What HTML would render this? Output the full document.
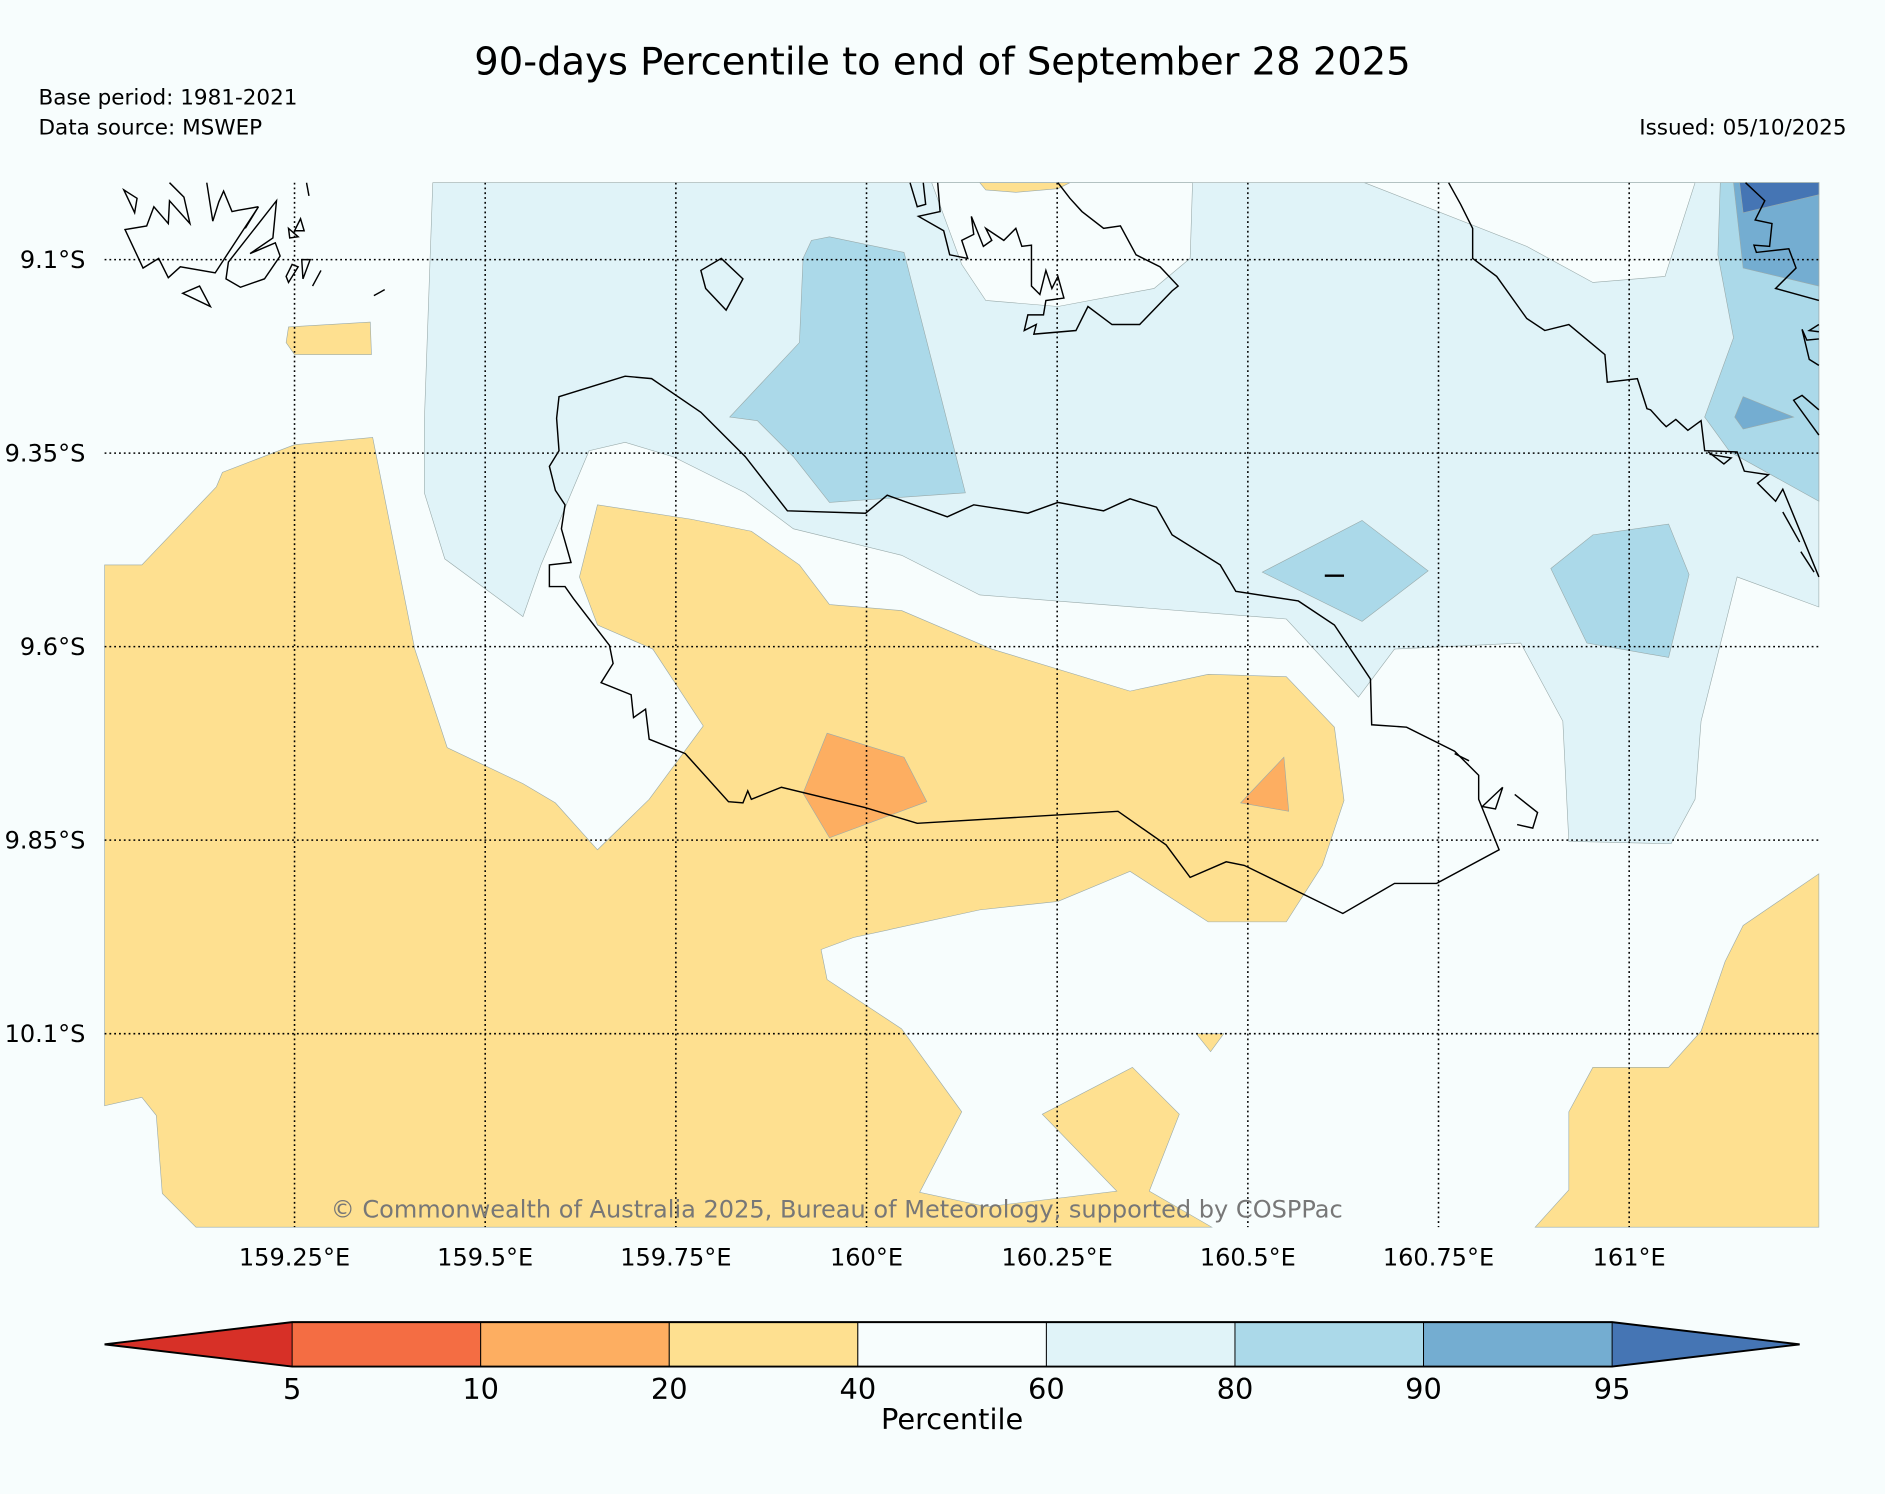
<!DOCTYPE html>
<html><head><meta charset="utf-8"><style>
html,body{margin:0;padding:0;background:#f7fdfd;}
svg{display:block;font-family:"DejaVu Sans","Liberation Sans",sans-serif;}
</style></head><body>
<svg id="chart" width="1885" height="1494" viewBox="0 0 1568 1243" preserveAspectRatio="none" xmlns="http://www.w3.org/2000/svg">
<rect x="0" y="0" width="1568" height="1243" fill="#f7fdfd"/>
<text x="784" y="62" font-size="32" text-anchor="middle" fill="#000">90-days Percentile to end of September 28 2025</text>
<text x="32" y="87" font-size="17.9" fill="#000">Base period: 1981-2021</text>
<text x="32" y="112" font-size="17.9" fill="#000">Data source: MSWEP</text>
<text x="1536" y="112" font-size="17.9" text-anchor="end" fill="#000">Issued: 05/10/2025</text>
<g id="map">
<rect x="87" y="152" width="1426" height="869" fill="#f7fdfd"/>
<g stroke="#9aa" stroke-width="0.5">
<polygon fill="#e0f3f8" points="360,152 353,350 353,410 370,465 435,513 450,470 490,375 520,368 560,380 620,410 660,440 750,462 815,495 1070,515 1130,580 1160,540 1265,535 1300,600 1305,700 1390,702 1410,665 1415,600 1445,480 1513,505 1513,152"/>
<polygon fill="#f7fdfd" points="775,152 800,220 820,250 880,255 960,240 990,215 992,152"/>
<polygon fill="#f7fdfd" points="1135,152 1270,205 1325,235 1385,230 1410,152"/>
<polygon fill="#abd9e9" points="675,200 690,197 752,210 775,300 803,410 690,418 660,380 630,350 607,347 665,285 668,215"/>
<polygon fill="#abd9e9" points="1050,476 1133,433 1188,475 1133,517"/>
<polygon fill="#abd9e9" points="1290,473 1325,445 1388,436 1405,478 1388,547 1320,535"/>
<polygon fill="#abd9e9" points="1431,152 1429,212 1442,281 1418,347 1439,376 1513,417 1513,152"/>
<polygon fill="#74add1" points="1442,152 1450,223 1513,238 1513,152"/>
<polygon fill="#74add1" points="1450,330 1492,347 1450,357 1443,347"/>
<polygon fill="#4575b4" points="1447,152 1450,177 1513,162 1513,152"/>
<polygon fill="#fee090" points="87,470 118,470 180,405 185,393 245,370 310,364 345,540 372,622 435,652 462,668 497,707 540,665 585,604 543,540 497,520 482,480 497,420 575,432 625,442 665,470 690,503 750,508 825,540 940,575 1005,561 1070,563 1110,605 1118,666 1100,720 1070,767 1005,767 940,725 880,750 815,757 710,780 683,790 688,815 750,856 800,925 765,992 821,1004 929,991 867,927 942,888 981,927 956,991 1008,1021 163,1021 135,993 130,928 118,913 87,920"/>
<polygon fill="#fee090" points="1277,1021 1305,990 1305,925 1325,888 1388,888 1415,858 1435,800 1450,770 1513,727 1513,1021"/>
<polygon fill="#fee090" points="240,272 308,268 309,295 245,295 238,285"/>
<polygon fill="#fee090" points="995,860 1018,860 1007,875"/>
<polygon fill="#fee090" points="815,152 820,158 845,160 880,157 890,152"/>
<polygon fill="#fdae61" points="688,610 752,630 771,667 690,697 668,660"/>
<polygon fill="#fdae61" points="1032,668 1068,630 1072,675"/>
</g>
<g fill="none" stroke="#000" stroke-width="1.2">
<polygon points="463,348 465,330 520,313 542,315 583,343 620,380 655,425 720,427 738,412 788,430 810,420 855,427 880,418 918,425 940,415 962,422 975,445 1015,470 1028,492 1080,500 1110,520 1140,565 1141,603 1170,605 1210,625 1230,645 1230,665 1247,707 1195,735 1160,735 1117,760 1035,720 1020,717 990,730 970,703 930,675 763,685 720,672 650,655 625,665 622,658 618,668 606,667 570,627 540,615 537,590 527,597 525,578 500,568 510,552 507,537 477,498 470,488 457,488 457,470 475,468 467,440 470,420 462,408 457,388 465,375"/>
<polygon points="583,225 600,215 618,232 604,258 587,240"/>
<polyline points="141,152 153,164 158,186 141,167 140,186 128,172 122,188 104,191 119,223 132,215 140,231 150,222 179,227 215,172 204,190"/>
<polyline points="172,152 177,184 182,168 186,159 193,176 198,175 215,172"/>
<polygon points="230,167 227,198 208,211 229,202 233,213 220,232 200,239 188,232 190,218"/>
<polygon points="103,158 114,165 112,177"/>
<polygon points="152,244 166,238 175,255"/>
<polygon points="250,182 253,192 245,192"/>
<polygon points="240,190 241,198 248,197"/>
<polygon points="238,230 243,220 248,222 240,235"/>
<polygon points="251,216 258,216 252,232"/>
<line x1="267" y1="225" x2="260" y2="238"/>
<line x1="320" y1="241" x2="311" y2="246"/>
<line x1="255" y1="152" x2="257" y2="163"/>
<polyline points="757,152 763,172 770,170 768,152"/>
<polyline points="780,152 782,176 764,180 785,192 790,212 805,215 800,200 810,195 808,180 818,205 825,200 820,190 835,200 845,190 850,205 858,204 858,238 865,245 870,225 875,240 880,230 885,248 870,250 868,262 855,262 852,275 862,270 860,278 895,275 905,255 925,270 948,270 975,242 980,238 965,222 945,212 932,188 918,190 900,176 890,165 880,152"/>
<polyline points="1205,152 1215,170 1225,190 1225,215 1245,230 1270,265 1285,275 1305,270 1335,295 1337,318 1362,315 1370,340 1373,341 1382,351 1386,355 1394,349 1404,358 1415,350 1418,375 1445,376 1451,392 1471,395 1462,402 1477,417 1483,407 1513,480"/>
<polyline points="1452,152 1468,167 1460,183 1474,186 1472,205 1459,204 1461,210 1488,207 1494,223 1477,240 1513,250"/>
<polyline points="1513,270 1505,275 1513,276"/>
<polyline points="1513,282 1503,283 1499,274 1505,299 1513,304"/>
<polyline points="1513,341 1499,329 1492,333 1513,362"/>
<polyline points="1421,376 1434,386 1440,381 1422,378"/>
<line x1="1483" y1="426" x2="1497" y2="451"/>
<line x1="1498" y1="459" x2="1509" y2="476"/>
<line x1="1102" y1="479" x2="1118" y2="479" stroke-width="2"/>
<polyline points="1250,655 1233,671 1244,673 1250,655"/>
<polyline points="1260,661 1279,676 1275,689 1262,686"/>
<line x1="1210" y1="627" x2="1222" y2="633"/>
</g>
<g id="grid"></g>
<text x="696" y="1013" font-size="20" text-anchor="middle" fill="#777">© Commonwealth of Australia 2025, Bureau of Meteorology, supported by COSPPac</text>
</g>
<g id="axes"></g>
<g id="colorbar"></g>
</svg>
<script>
const lonTicks = [159.25, 159.5, 159.75, 160, 160.25, 160.5, 160.75, 161];
const lonLabels = ["159.25°E","159.5°E","159.75°E","160°E","160.25°E","160.5°E","160.75°E","161°E"];
const latTicks = [-9.1, -9.35, -9.6, -9.85, -10.1];
const latLabels = ["9.1°S","9.35°S","9.6°S","9.85°S","10.1°S"];
const levels = [5, 10, 20, 40, 60, 80, 90, 95];
const levelColors = ["#f46d43","#fdae61","#fee090","#f7fdfd","#e0f3f8","#abd9e9","#74add1"];
const extendColors = ["#d73027","#4575b4"];

const NS = "http://www.w3.org/2000/svg";
const X0 = 87, X1 = 1513, Y0 = 152, Y1 = 1021;
function xLon(lon){ return 245 + (lon - 159.25) * 634.4; }
function yLat(lat){ return 216 + (-9.1 - lat) * 644; }
function mk(tag, attrs, parent){ const e = document.createElementNS(NS, tag); for (const k in attrs) e.setAttribute(k, attrs[k]); parent.appendChild(e); return e; }

const grid = document.getElementById('grid');
const axes = document.getElementById('axes');
lonTicks.forEach((lon, i) => {
  const x = xLon(lon);
  const l = mk('line', {x1:x, x2:x, y1:Y0, y2:Y1, stroke:'#000', 'stroke-width':1.3, 'stroke-dasharray':'1.5,2.5'}, grid);
  
  
  const t = mk('text', {x:x, y:1053, 'font-size':20, 'text-anchor':'middle', fill:'#000'}, axes);
  t.textContent = lonLabels[i];
  
  
});
latTicks.forEach((lat, i) => {
  const y = yLat(lat);
  const l = mk('line', {x1:X0, x2:X1, y1:y, y2:y, stroke:'#000', 'stroke-width':1.3, 'stroke-dasharray':'1.5,2.5'}, grid);
  
  
  const t = mk('text', {x:71, y:y + 7, 'font-size':20, 'text-anchor':'end', fill:'#000'}, axes);
  t.textContent = latLabels[i];
  
  
});

const cb = document.getElementById('colorbar');
const CB0 = 243, CB1 = 1341, CBT = 1100, CBB = 1137, TRI = 156;
const segW = (CB1 - CB0) / (levels.length - 1);
function cbX(i){ return CB0 + i * segW; }
const lt = mk('polygon', {points:`${CB0},${CBT} ${CB0-TRI},${(CBT+CBB)/2} ${CB0},${CBB}`, fill:extendColors[0]}, cb);


const rt = mk('polygon', {points:`${CB1},${CBT} ${CB1+TRI},${(CBT+CBB)/2} ${CB1},${CBB}`, fill:extendColors[1]}, cb);


levelColors.forEach((c, i) => {
  const r = mk('rect', {x:cbX(i), y:CBT, width:segW, height:CBB-CBT, fill:c, stroke:'#000', 'stroke-width':0.8}, cb);
  
  
});
const outline = mk('polygon', {points:`${CB0-TRI},${(CBT+CBB)/2} ${CB0},${CBT} ${CB1},${CBT} ${CB1+TRI},${(CBT+CBB)/2} ${CB1},${CBB} ${CB0},${CBB}`, fill:'none', stroke:'#000', 'stroke-width':1.6}, cb);


levels.forEach((v, i) => {
  const t = mk('text', {x:cbX(i), y:1164, 'font-size':24, 'text-anchor':'middle', fill:'#000'}, cb);
  t.textContent = v;
  
  
});
const cbt = mk('text', {x:792, y:1189, 'font-size':24, 'text-anchor':'middle', fill:'#000'}, cb);
cbt.textContent = 'Percentile';


</script>
</body></html>
